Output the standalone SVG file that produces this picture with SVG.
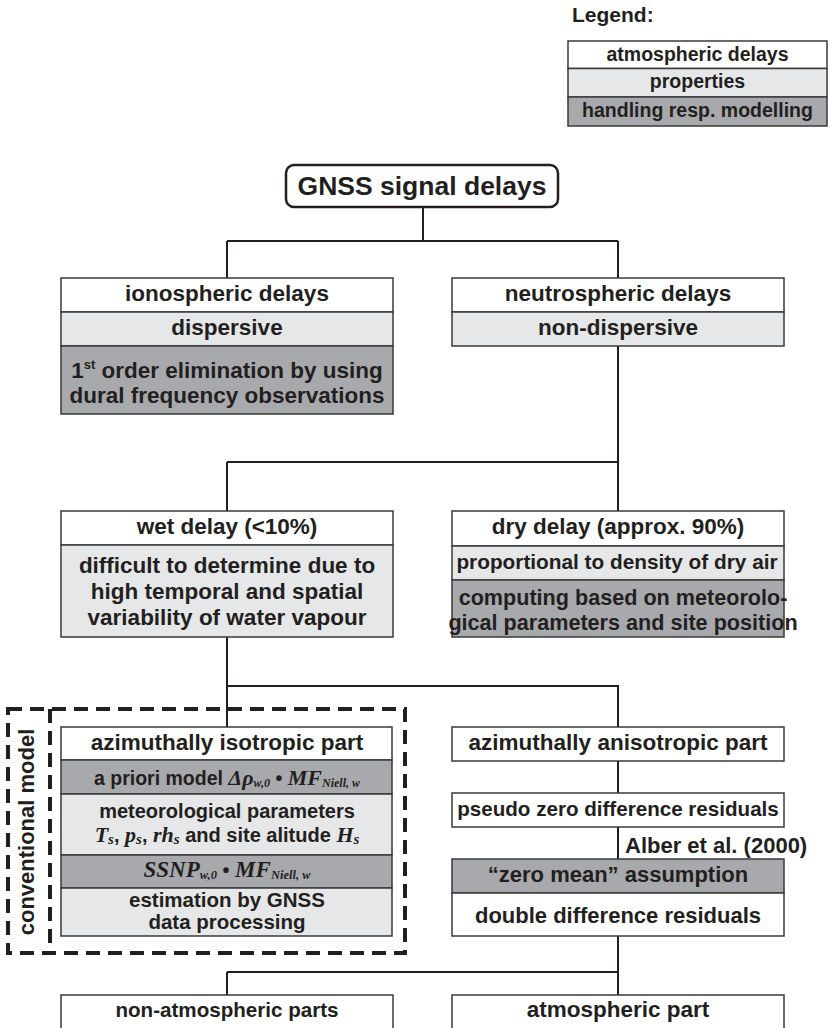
<svg xmlns="http://www.w3.org/2000/svg" width="833" height="1028" viewBox="0 0 833 1028">
<style>
.box{stroke:#3a3a3a;stroke-width:1.5}
.w{fill:#ffffff}.l{fill:#e6e7e8}.d{fill:#a7a9ac}
.t{font-family:"Liberation Sans",Arial,sans-serif;font-weight:bold;font-size:22.5px;fill:#231f20;text-anchor:middle}
.m{font-family:"Liberation Serif","Times New Roman",serif;font-style:italic;font-weight:bold}
.conn{stroke:#231f20;stroke-width:2;fill:none}
.dash{stroke:#231f20;stroke-width:4;stroke-dasharray:14 8;fill:none}
</style>
<rect width="833" height="1028" fill="#ffffff"/>

<g id="legend">
<text class="t" x="572" y="22" style="text-anchor:start;font-size:21px">Legend:</text>
<rect class="box w" x="568" y="41" width="259" height="27.5"/>
<rect class="box l" x="568" y="68.5" width="259" height="28.5"/>
<rect class="box d" x="568" y="97" width="259" height="29"/>
<text class="t" x="697.5" y="61" style="font-size:19.5px">atmospheric delays</text>
<text class="t" x="697.5" y="88" style="font-size:19.5px">properties</text>
<text class="t" x="697.5" y="117" style="font-size:19.5px">handling resp. modelling</text>
</g>

<g id="connectors">
<path class="conn" d="M423 207V241M227 241H618M227 241V278M618 241V278"/>
<path class="conn" d="M618 346V511M227 462H618M227 462V511"/>
<path class="conn" d="M227 637V727M227 686H618V727"/>
<path class="conn" d="M618 761V793M618 827V859M618 936V995M227 972H618M227 972V995"/>
</g>

<g id="gnss">
<rect x="286" y="165" width="272" height="42" rx="8" fill="#fff" stroke="#231f20" stroke-width="2.5"/>
<text class="t" x="422" y="195" style="font-size:26.5px">GNSS signal delays</text>
</g>

<g id="ionospheric">
<rect class="box w" x="61" y="278" width="332" height="34"/>
<rect class="box l" x="61" y="312" width="332" height="34"/>
<rect class="box d" x="61" y="346" width="332" height="68"/>
<text class="t" x="227" y="301">ionospheric delays</text>
<text class="t" x="227" y="335">dispersive</text>
<text class="t" x="227" y="378">1<tspan font-size="13" dy="-9">st</tspan><tspan dy="9"> order elimination by using</tspan></text>
<text class="t" x="227" y="403">dural frequency observations</text>
</g>

<g id="neutrospheric">
<rect class="box w" x="452" y="278" width="332" height="34"/>
<rect class="box l" x="452" y="312" width="332" height="34"/>
<text class="t" x="618" y="301">neutrospheric delays</text>
<text class="t" x="618" y="335">non-dispersive</text>
</g>

<g id="wet">
<rect class="box w" x="61" y="511" width="332" height="34"/>
<rect class="box l" x="61" y="545" width="332" height="92"/>
<text class="t" x="227" y="534">wet delay (&lt;10%)</text>
<text class="t" x="227" y="573">difficult to determine due to</text>
<text class="t" x="227" y="599">high temporal and spatial</text>
<text class="t" x="227" y="625">variability of water vapour</text>
</g>

<g id="dry">
<rect class="box w" x="452" y="511" width="332" height="35"/>
<rect class="box l" x="452" y="546" width="332" height="34"/>
<rect class="box d" x="452" y="580" width="332" height="57"/>
<text class="t" x="618" y="534">dry delay (approx. 90%)</text>
<text class="t" x="617" y="569" style="font-size:20.8px">proportional to density of dry air</text>
<text class="t" x="623" y="605" style="font-size:21.6px">computing based on meteorolo-</text>
<text class="t" x="623" y="630" style="font-size:21.6px">gical parameters and site position</text>
</g>

<g id="conventional-model">
<rect class="dash" x="8" y="709" width="397" height="244"/>
<path class="dash" d="M50 709V953"/>
<text class="t" transform="translate(34 832) rotate(-90)" x="0" y="0" style="font-size:22px">conventional model</text>
</g>

<g id="isotropic">
<rect class="box w" x="61" y="727" width="331" height="33"/>
<rect class="box d" x="61" y="760" width="331" height="34"/>
<rect class="box l" x="61" y="794" width="331" height="61"/>
<rect class="box d" x="61" y="855" width="331" height="33"/>
<rect class="box l" x="61" y="888" width="331" height="48"/>
<text class="t" x="227" y="750">azimuthally isotropic part</text>
<text class="t" x="227" y="785" style="font-size:19.5px">a priori model <tspan class="m" font-size="22">Δρ</tspan><tspan class="m" font-size="12" dy="2">w,0</tspan><tspan dy="-2"> • </tspan><tspan class="m" font-size="22">MF</tspan><tspan class="m" font-size="12" dy="2">Niell, w</tspan></text>
<text class="t" x="227" y="818" style="font-size:20px">meteorological parameters</text>
<text class="t" x="227" y="842" style="font-size:20px"><tspan class="m" font-size="22">T</tspan><tspan class="m" font-size="15" dy="2">s</tspan><tspan dy="-2">, </tspan><tspan class="m" font-size="22">p</tspan><tspan class="m" font-size="15" dy="2">s</tspan><tspan dy="-2">, </tspan><tspan class="m" font-size="22">rh</tspan><tspan class="m" font-size="15" dy="2">s</tspan><tspan dy="-2"> and site alitude </tspan><tspan class="m" font-size="22">H</tspan><tspan class="m" font-size="15" dy="2">s</tspan></text>
<text class="t" x="227" y="877" style="font-size:20px"><tspan class="m" font-size="23">SSNP</tspan><tspan class="m" font-size="12.5" dy="2">w,0</tspan><tspan dy="-2"> • </tspan><tspan class="m" font-size="23">MF</tspan><tspan class="m" font-size="12.5" dy="2">Niell, w</tspan></text>
<text class="t" x="227" y="907" style="font-size:20.5px">estimation by GNSS</text>
<text class="t" x="227" y="929" style="font-size:20.5px">data processing</text>
</g>

<g id="anisotropic">
<rect class="box w" x="452" y="727" width="332" height="34"/>
<text class="t" x="618" y="750">azimuthally anisotropic part</text>
</g>

<g id="pseudo">
<rect class="box w" x="452" y="793" width="332" height="34"/>
<text class="t" x="618" y="816" style="font-size:20.6px">pseudo zero difference residuals</text>
</g>

<g id="alber-label">
<text class="t" x="625" y="853" style="text-anchor:start;font-size:22px">Alber et al. (2000)</text>
</g>

<g id="zero-mean">
<rect class="box d" x="452" y="859" width="332" height="34"/>
<rect class="box w" x="452" y="893" width="332" height="43"/>
<text class="t" x="618" y="882" style="font-size:22px">“zero mean” assumption</text>
<text class="t" x="618" y="923" style="font-size:22px">double difference residuals</text>
</g>

<g id="non-atmospheric">
<rect class="box w" x="61" y="995" width="332" height="40"/>
<text class="t" x="227" y="1017" style="font-size:20.6px">non-atmospheric parts</text>
</g>

<g id="atmospheric">
<rect class="box w" x="452" y="995" width="332" height="40"/>
<text class="t" x="618" y="1017">atmospheric part</text>
</g>
</svg>
